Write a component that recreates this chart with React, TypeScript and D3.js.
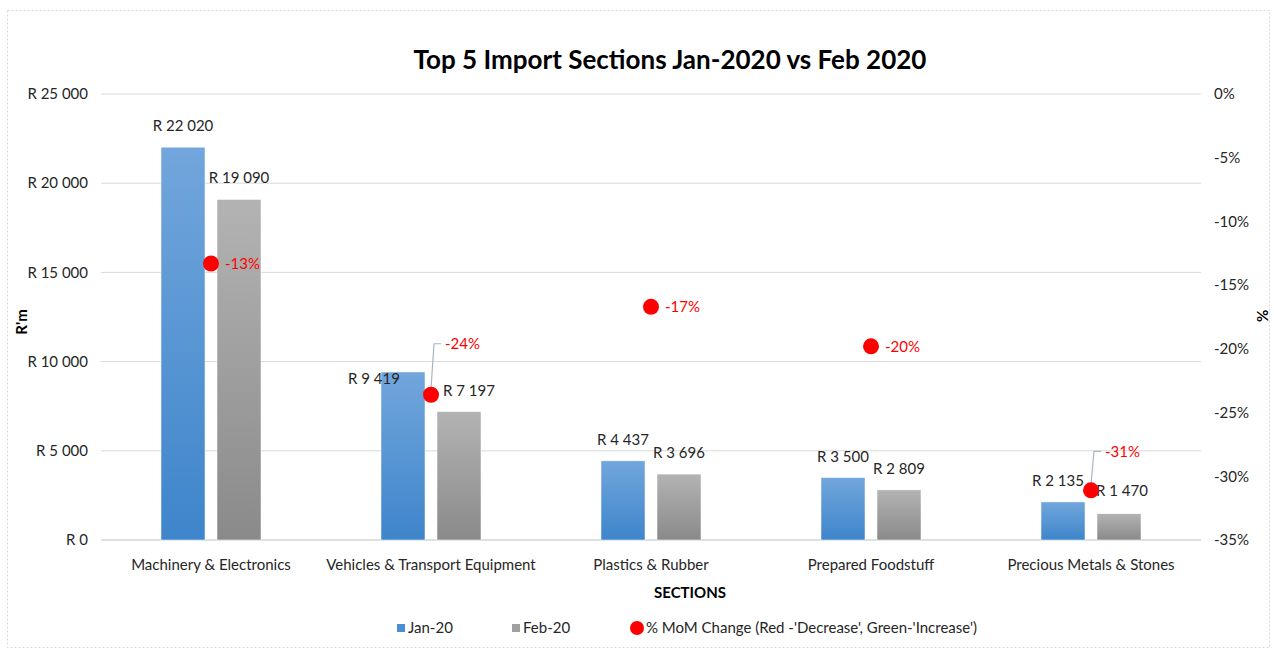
import React from 'react';
import * as d3 from 'd3';

const W = 1274;
const H = 651;

// data
const sections = ['Machinery & Electronics', 'Vehicles & Transport Equipment', 'Plastics & Rubber', 'Prepared Foodstuff', 'Precious Metals & Stones'];
const jan20 = [22020, 9419, 4437, 3500, 2135];
const feb20 = [19090, 7197, 3696, 2809, 1470];
const momChange = [-13.3, -23.6, -16.7, -19.8, -31.1];
const momLabels = ['-13%', '-24%', '-17%', '-20%', '-31%'];
const leftTicks = [0, 5000, 10000, 15000, 20000, 25000];
const rightTicks = [0, -5, -10, -15, -20, -25, -30, -35];

// label nudges where Excel moved them to avoid the dots
const janLabelNudge = [[0, 0], [-29, 28], [0, 0], [0, 0], [-5, 0]];
const febLabelNudge = [[0, 0], [10, 0], [0, 0], [0, 0], [3, -2]];
const callout = [false, true, false, false, true];

const FONT = "Lato, 'Open Sans', sans-serif";

const fmtR = (v: number) => 'R ' + d3.format(',')(v).replace(/,/g, ' ');

export default function App() {
  const margin = { left: 101, right: 73, top: 94, bottom: 111 };
  const innerW = W - margin.left - margin.right;
  const innerH = H - margin.top - margin.bottom;

  const x = d3.scaleBand<string>().domain(sections).range([margin.left, margin.left + innerW]);
  const y = d3.scaleLinear().domain([0, 25000]).range([margin.top + innerH, margin.top]);
  const y2 = d3.scaleLinear().domain([-35, 0]).range([margin.top + innerH, margin.top]);

  const barW = 44;
  const gap = 12;
  const textCol = '#262626';
  const fs = 15;

  return (
    <div style={{ position: 'absolute', left: 0, top: 0 }}>
      <svg width={W} height={H} style={{ display: 'block', background: '#fff' }} fontFamily={FONT}>
        <defs>
          <linearGradient id="gJan" x1="0" y1="0" x2="0" y2="1">
            <stop offset="0" stopColor="#72a6dc" />
            <stop offset="1" stopColor="#3e85cb" />
          </linearGradient>
          <linearGradient id="gFeb" x1="0" y1="0" x2="0" y2="1">
            <stop offset="0" stopColor="#b3b3b3" />
            <stop offset="1" stopColor="#8a8a8a" />
          </linearGradient>
        </defs>
        <rect x={7.5} y={10.5} width={1262} height={637} fill="none" stroke="#d9d9d9" strokeDasharray="2,2" />

        <text x={670} y={69} textAnchor="middle" fontSize={26} fontWeight="bold" fill="#000">
          Top 5 Import Sections Jan-2020 vs Feb 2020
        </text>

        {/* gridlines */}
        {leftTicks.map((t) => (
          <line key={t} x1={margin.left} x2={margin.left + innerW} y1={y(t)} y2={y(t)} stroke="#d9d9d9" strokeWidth={1} />
        ))}
        <line x1={margin.left} x2={margin.left + innerW} y1={y(0)} y2={y(0)} stroke="#d0d5dc" strokeWidth={1.2} />

        {/* left axis */}
        {leftTicks.map((t) => (
          <text key={t} x={88} y={y(t)} dy="0.35em" textAnchor="end" fontSize={fs} fill={textCol}>
            {fmtR(t)}
          </text>
        ))}
        <text transform={`translate(27,${y(12500) + 5}) rotate(-90)`} textAnchor="middle" fontSize={fs} fontWeight="bold" fill="#000">
          R'm
        </text>

        {/* right axis */}
        {rightTicks.map((t) => (
          <text key={t} x={1214} y={y2(t)} dy="0.35em" textAnchor="start" fontSize={fs} fill={textCol}>
            {t + '%'}
          </text>
        ))}
        <text transform={`translate(1257,316) rotate(90)`} textAnchor="middle" fontSize={fs} fontWeight="bold" fill="#000">
          %
        </text>

        {/* bars */}
        {sections.map((s, i) => {
          const cx = (x(s) as number) + x.bandwidth() / 2;
          const jx = cx - gap / 2 - barW;
          const fx = cx + gap / 2;
          return (
            <g key={s}>
              <rect x={jx} y={y(jan20[i])} width={barW} height={y(0) - y(jan20[i])} fill="url(#gJan)" stroke="#fff" strokeWidth={0.5} />
              <rect x={fx} y={y(feb20[i])} width={barW} height={y(0) - y(feb20[i])} fill="url(#gFeb)" stroke="#fff" strokeWidth={0.5} />
              <text x={jx + barW / 2 + janLabelNudge[i][0]} y={y(jan20[i]) - 16 + janLabelNudge[i][1]} textAnchor="middle" fontSize={fs} fill={textCol}>
                {fmtR(jan20[i])}
              </text>
              <text x={fx + barW / 2 + febLabelNudge[i][0]} y={y(feb20[i]) - 16 + febLabelNudge[i][1]} textAnchor="middle" fontSize={fs} fill={textCol}>
                {fmtR(feb20[i])}
              </text>
              <text x={cx} y={565} dy="0.35em" textAnchor="middle" fontSize={fs} fill={textCol}>
                {s}
              </text>
            </g>
          );
        })}

        {/* % change dots */}
        {sections.map((s, i) => {
          const cx = (x(s) as number) + x.bandwidth() / 2;
          const cy = y2(momChange[i]);
          if (callout[i]) {
            const ly = cy - (i === 1 ? 51 : 39);
            return (
              <g key={s}>
                <polyline points={`${cx},${cy - 6} ${cx + 3},${ly} ${cx + 10},${ly}`} fill="none" stroke="#aab4c3" strokeWidth={1.2} />
                <circle cx={cx} cy={cy} r={8} fill="#ff0000" />
                <text x={cx + 14} y={ly} dy="0.35em" fontSize={fs} fill="#ff0000">{momLabels[i]}</text>
              </g>
            );
          }
          return (
            <g key={s}>
              <circle cx={cx} cy={cy} r={8} fill="#ff0000" />
              <text x={cx + 14} y={cy} dy="0.35em" fontSize={fs} fill="#ff0000">{momLabels[i]}</text>
            </g>
          );
        })}

        <text x={690} y={593} dy="0.35em" textAnchor="middle" fontSize={fs} fontWeight="bold" fill="#000">
          SECTIONS
        </text>

        {/* legend */}
        <g fontSize={fs} fill={textCol}>
          <rect x={397} y={624} width={8} height={8} fill="#4a8fd3" />
          <text x={408} y={628} dy="0.35em">Jan-20</text>
          <rect x={512} y={624} width={8} height={8} fill="#a0a0a0" />
          <text x={523} y={628} dy="0.35em">Feb-20</text>
          <circle cx={637} cy={628} r={7} fill="#ff0000" />
          <text x={646} y={628} dy="0.35em">% MoM Change (Red -'Decrease', Green-'Increase')</text>
        </g>
      </svg>
    </div>
  );
}
